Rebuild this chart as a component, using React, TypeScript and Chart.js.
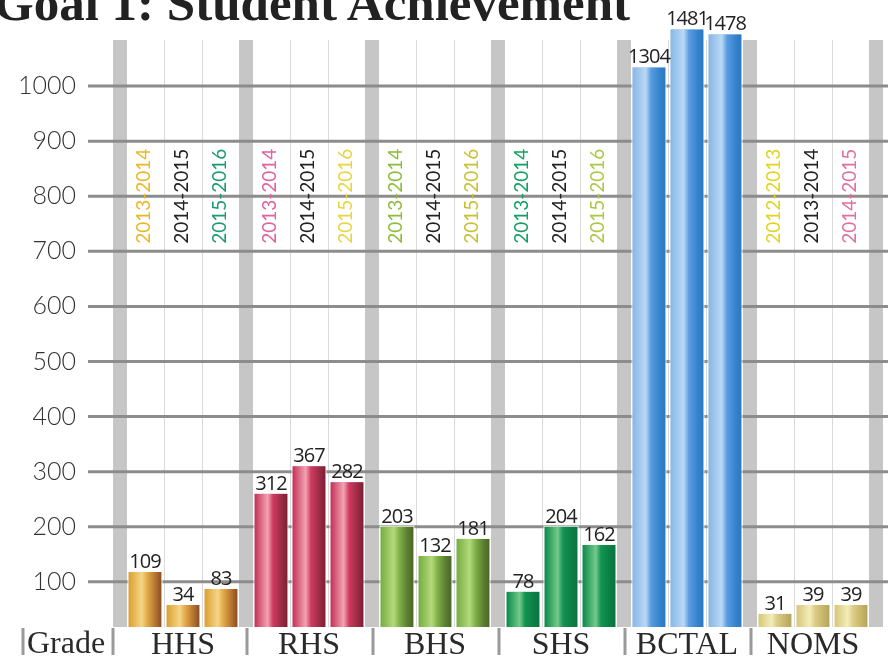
import React, { useEffect, useRef } from "react";
import { Chart, registerables } from "chart.js";

Chart.register(...registerables);

// ---------- data ----------
const titleText = "Goal 1: Student Achievement";
const leadLabel = "Grade";
const schools = ["HHS", "RHS", "BHS", "SHS", "BCTAL", "NOMS"];

const yearsA = ["2013-2014", "2013-2014", "2013-2014", "2013-2014", "", "2012-2013"];
const yearsB = ["2014-2015", "2014-2015", "2014-2015", "2014-2015", "", "2013-2014"];
const yearsC = ["2015-2016", "2015-2016", "2015-2016", "2015-2016", "", "2014-2015"];

const yearColorsA = ["#e9b829", "#e0629e", "#8dbd3d", "#13a163", "#222222", "#e2d41f"];
const yearColorsB = ["#222222", "#222222", "#222222", "#222222", "#222222", "#222222"];
const yearColorsC = ["#1d9b6f", "#e9d443", "#c9c133", "#a9c94a", "#222222", "#e2709f"];

// numbers printed above the bars
const shownA = [109, 312, 203, 78, 1304, 31];
const shownB = [34, 367, 132, 204, 1481, 39];
const shownC = [83, 282, 181, 162, 1478, 39];

// bar heights as drawn in the picture (read against the axis)
const heightsA = [118, 260, 200, 82, 1034, 42];
const heightsB = [58, 310, 147, 200, 1103, 58];
const heightsC = [87, 281, 178, 167, 1094, 58];

const yTickValues = [100, 200, 300, 400, 500, 600, 700, 800, 900, 1000];

// ---------- styles ----------
const palettes: string[][] = [
  ["#dc9e2e", "#f3d688", "#e4ab4a", "#b3732f", "#8a4c27"],
  ["#c42f58", "#f2a3b2", "#cf3b60", "#9c2a44", "#7a1f33"],
  ["#74ad3e", "#b4da7b", "#82b54a", "#5c7d31", "#4a6527"],
  ["#088a48", "#74c98b", "#139353", "#0b7f44", "#0a7440"],
  ["#88b6e6", "#bad8f4", "#5a9ce0", "#3583cc", "#2a78c2"],
  ["#d6c676", "#f3edbb", "#dccd86", "#c5b56a", "#b4a35c"],
];
const stopPos = [0, 0.4, 0.56, 0.82, 1];
const baseColors = palettes.map((p) => p[2]);

const yearSets = [yearsA, yearsB, yearsC];
const yearColorSets = [yearColorsA, yearColorsB, yearColorsC];
const shownSets = [shownA, shownB, shownC];

const decorPlugin = {
  id: "decor",
  beforeDatasetsDraw(chart: any) {
    const { ctx, chartArea } = chart;
    const xs = chart.scales.x;
    const ys = chart.scales.y;
    const n = schools.length;
    const catW = xs.width / n;
    const top = chartArea.top + 20;
    const bottom = chartArea.bottom;
    ctx.save();
    // thin separators between bars
    ctx.strokeStyle = "#dadada";
    ctx.lineWidth = 1;
    const metas = [0, 1, 2].map((d) => chart.getDatasetMeta(d));
    for (let i = 0; i < n; i++) {
      for (let d = 0; d < 2; d++) {
        const a = metas[d].data[i];
        const b = metas[d + 1].data[i];
        const mx = Math.round((a.x + b.x) / 2) + 0.5;
        ctx.beginPath();
        ctx.moveTo(mx, top);
        ctx.lineTo(mx, bottom);
        ctx.stroke();
      }
    }
    // thick gray bands between groups
    ctx.fillStyle = "#c6c6c6";
    for (let i = 0; i <= n; i++) {
      const bx = xs.left + i * catW;
      ctx.fillRect(bx - 7, top, 14, bottom - top);
    }
    // horizontal grid lines
    ctx.strokeStyle = "#8c8c8c";
    ctx.lineWidth = 3;
    for (const v of yTickValues) {
      const py = ys.getPixelForValue(v);
      ctx.beginPath();
      ctx.moveTo(88, py);
      ctx.lineTo(chart.width, py);
      ctx.stroke();
    }
    // rotated year labels
    ctx.font = "400 19px Lato";
    ctx.textAlign = "center";
    ctx.textBaseline = "middle";
    const cy = ys.getPixelForValue(800);
    for (let d = 0; d < 3; d++) {
      for (let i = 0; i < n; i++) {
        const txt = yearSets[d][i];
        if (!txt) continue;
        const el = metas[d].data[i];
        ctx.save();
        ctx.translate(el.x - 1, cy);
        ctx.rotate(-Math.PI / 2);
        ctx.fillStyle = yearColorSets[d][i];
        ctx.fillText(txt, 0, 0);
        ctx.restore();
      }
    }
    ctx.restore();
  },
  afterDatasetsDraw(chart: any) {
    const { ctx, chartArea } = chart;
    ctx.save();
    ctx.beginPath();
    ctx.rect(chartArea.left - 20, 0, chartArea.width + 40, chartArea.bottom);
    ctx.clip();
    for (let d = 0; d < 3; d++) {
      const meta = chart.getDatasetMeta(d);
      meta.data.forEach((el: any, i: number) => {
        const { x, y, base, width } = el.getProps(["x", "y", "base", "width"], true);
        const l = x - width / 2;
        const g = ctx.createLinearGradient(l, 0, l + width, 0);
        palettes[i].forEach((c, k) => g.addColorStop(stopPos[k], c));
        ctx.fillStyle = g;
        ctx.fillRect(l, y, width, base - y);
        ctx.strokeStyle = "rgba(255,255,255,0.8)";
        ctx.lineWidth = 1;
        ctx.strokeRect(l - 0.5, y - 0.5, width + 1, base - y + 1);
      });
    }
    ctx.restore();
    ctx.save();
    // value labels
    ctx.font = "20px 'Open Sans'";
    (ctx as any).letterSpacing = "-1px";
    ctx.fillStyle = "#222222";
    ctx.textAlign = "center";
    ctx.textBaseline = "alphabetic";
    for (let d = 0; d < 3; d++) {
      const meta = chart.getDatasetMeta(d);
      meta.data.forEach((el: any, i: number) => {
        ctx.fillText(String(shownSets[d][i]), el.x, el.y - 4);
      });
    }
    ctx.restore();
  },
  afterDraw(chart: any) {
    const { ctx, chartArea } = chart;
    const xs = chart.scales.x;
    const n = schools.length;
    const catW = xs.width / n;
    ctx.save();
    ctx.font = "32px 'Liberation Serif'";
    ctx.fillStyle = "#2a2a2a";
    ctx.textAlign = "left";
    ctx.textBaseline = "alphabetic";
    ctx.fillText(leadLabel, 27, 653);
    ctx.fillStyle = "#9a9a9a";
    const sepX = [23, xs.left - 7];
    for (let i = 1; i < n; i++) sepX.push(xs.left + i * catW + 1);
    for (const sx of sepX) {
      ctx.fillRect(sx - 1.5, chartArea.bottom + 1, 3, chart.height - chartArea.bottom - 3);
    }
    ctx.restore();
  },
};

export default function App() {
  const ref = useRef<HTMLCanvasElement | null>(null);

  useEffect(() => {
    if (!ref.current) return;
    const datasets = [heightsA, heightsB, heightsC].map((h, d) => ({
      label: "set" + d,
      data: h,
      backgroundColor: baseColors,
      borderWidth: 0,
      categoryPercentage: 0.905,
      barPercentage: 0.87,
    }));
    const chart = new Chart(ref.current, {
      type: "bar",
      data: { labels: schools, datasets },
      options: {
        responsive: false,
        animation: false,
        devicePixelRatio: 1,
        layout: { padding: { top: 20, right: 12, left: 0, bottom: 0 } },
        plugins: {
          legend: { display: false },
          tooltip: { enabled: false },
          title: { display: false },
        },
        scales: {
          x: {
            grid: { display: false },
            border: { display: false },
            ticks: {
              font: { family: "'Liberation Serif'", size: 32, lineHeight: 1 },
              color: "#2a2a2a",
              padding: -5,
              maxRotation: 0,
              autoSkip: false,
            },
            afterFit: (s: any) => {
              s.height = 30;
            },
          },
          y: {
            min: 18,
            max: 1120,
            grid: {
              display: true,
              drawOnChartArea: false,
              drawTicks: true,
              tickLength: 40,
              color: "rgba(0,0,0,0)",
            },
            border: { display: false },
            afterBuildTicks: (s: any) => {
              s.ticks = yTickValues.map((v) => ({ value: v }));
            },
            ticks: {
              font: { family: "Lato", size: 25, weight: 300 as any, lineHeight: 1.2 },
              color: "#333333",
              padding: 4,
              callback: (v: any) => String(v),
            },
            afterFit: (s: any) => {
              s.width = 120;
            },
          },
        },
      },
      plugins: [decorPlugin],
    });
    return () => chart.destroy();
  }, []);

  return (
    <div
      style={{
        position: "fixed",
        left: 0,
        top: 0,
        width: 888,
        height: 657,
        overflow: "hidden",
        background: "#ffffff",
      }}
    >
      <canvas ref={ref} width={888} height={657} style={{ position: "absolute", left: 0, top: 0 }} />
      <div
        style={{
          position: "absolute",
          left: -6,
          top: -22,
          fontFamily: "'Liberation Serif', serif",
          fontWeight: 700,
          fontSize: 51,
          lineHeight: 1,
          color: "#222222",
          whiteSpace: "nowrap",
        }}
      >
        {titleText}
      </div>
    </div>
  );
}
